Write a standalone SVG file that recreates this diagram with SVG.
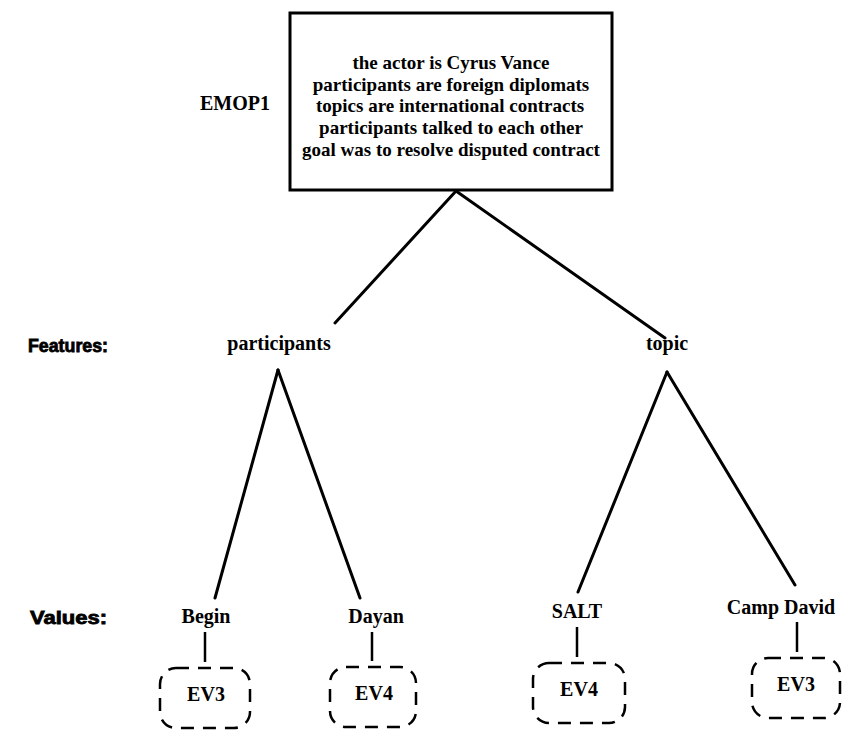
<svg xmlns="http://www.w3.org/2000/svg" width="849" height="737" viewBox="0 0 849 737">
  <style>
    .serif { font-family: "Liberation Serif", "Times New Roman", serif; font-weight: bold; fill: #000; }
    .box-text { font-size: 19px; text-anchor: middle; }
    .label { font-size: 20px; text-anchor: middle; }
    .heading { font-family: "Liberation Sans", Arial, sans-serif; font-weight: bold; font-size: 18px; fill: #000; stroke: #000; stroke-width: 0.8; }
    .edge { stroke: #000; stroke-width: 3; fill: none; stroke-linecap: round; }
    .stub { stroke: #000; stroke-width: 2.5; fill: none; }
    .ev { fill: none; stroke: #000; stroke-width: 2.5; stroke-dasharray: 13 9; }
  </style>

  <rect width="849" height="737" fill="#fff"/>

  <!-- row headings -->
  <text class="heading" x="28" y="352" textLength="80" lengthAdjust="spacingAndGlyphs">Features:</text>
  <text class="heading" x="30" y="624" textLength="77" lengthAdjust="spacingAndGlyphs">Values:</text>

  <!-- root episode -->
  <g id="emop1">
    <text class="serif" x="200" y="110" font-size="20">EMOP1</text>
    <rect x="290" y="13" width="322" height="177" fill="none" stroke="#000" stroke-width="3"/>
    <text class="serif box-text" x="451" y="69">the actor is Cyrus Vance</text>
    <text class="serif box-text" x="451" y="91">participants are foreign diplomats</text>
    <text class="serif box-text" x="450" y="112">topics are international contracts</text>
    <text class="serif box-text" x="451" y="134">participants talked to each other</text>
    <text class="serif box-text" x="451" y="156">goal was to resolve disputed contract</text>
  </g>

  <!-- features -->
  <g id="feature-participants">
    <text class="serif label" x="279" y="350">participants</text>
  </g>
  <g id="feature-topic">
    <text class="serif label" x="667" y="350">topic</text>
  </g>

  <!-- values -->
  <g id="value-begin">
    <text class="serif label" x="206" y="623">Begin</text>
  </g>
  <g id="value-dayan">
    <text class="serif label" x="376" y="623">Dayan</text>
  </g>
  <g id="value-salt">
    <text class="serif label" x="577" y="618">SALT</text>
  </g>
  <g id="value-camp-david">
    <text class="serif label" x="781" y="614">Camp David</text>
  </g>

  <!-- event leaves -->
  <g id="ev3-begin">
    <rect class="ev" x="160" y="668" width="90" height="60" rx="16"/>
    <text class="serif label" x="206" y="701">EV3</text>
  </g>
  <g id="ev4-dayan">
    <rect class="ev" x="330" y="667" width="86" height="60" rx="16"/>
    <text class="serif label" x="374" y="700">EV4</text>
  </g>
  <g id="ev4-salt">
    <rect class="ev" x="533" y="663" width="92" height="60" rx="16"/>
    <text class="serif label" x="579" y="696">EV4</text>
  </g>
  <g id="ev3-camp-david">
    <rect class="ev" x="752" y="658" width="88" height="60" rx="16"/>
    <text class="serif label" x="796" y="691">EV3</text>
  </g>

  <!-- connectors -->
  <g id="connectors">
    <line class="edge" x1="456" y1="191" x2="335" y2="323"/>
    <line class="edge" x1="456" y1="191" x2="665" y2="338"/>
    <line class="edge" x1="278" y1="370" x2="215" y2="598"/>
    <line class="edge" x1="278" y1="370" x2="360" y2="598"/>
    <line class="edge" x1="667" y1="372" x2="578" y2="592"/>
    <line class="edge" x1="667" y1="372" x2="795" y2="585"/>
    <line class="stub" x1="205" y1="632" x2="205" y2="662"/>
    <line class="stub" x1="372" y1="632" x2="372" y2="661"/>
    <line class="stub" x1="577" y1="627" x2="577" y2="657"/>
    <line class="stub" x1="797" y1="622" x2="797" y2="652"/>
  </g>
</svg>
